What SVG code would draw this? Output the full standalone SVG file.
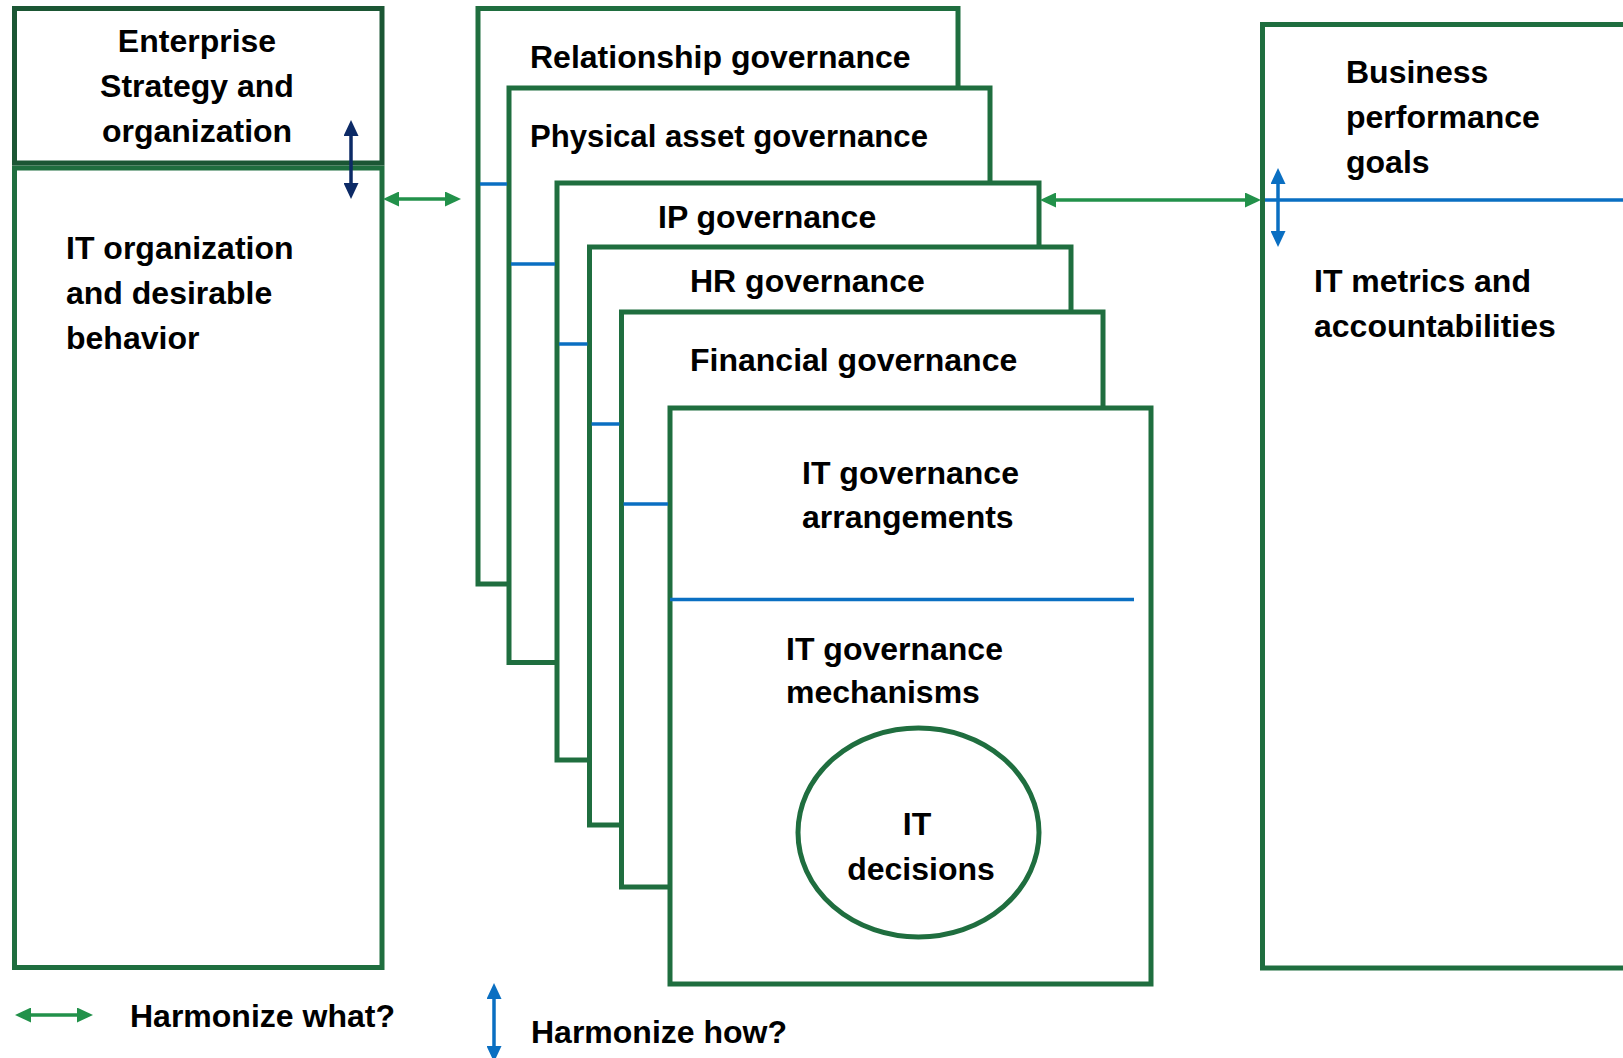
<svg xmlns="http://www.w3.org/2000/svg" width="1623" height="1058" viewBox="0 0 1623 1058">
  <style>
    text { font-family: "Liberation Sans", Arial, sans-serif; font-weight: bold; font-size: 32px; fill: #000; }
    .mid { text-anchor: middle; }
    .box { fill: #fff; stroke: #1f6e3f; stroke-width: 5; }
    .dark { fill: #fff; stroke: #1b5634; stroke-width: 5; }
    .blue { stroke: #0a6fc2; stroke-width: 3.5; fill: none; }
    .green { stroke: #22914a; stroke-width: 3.5; fill: none; marker-start: url(#gHead); marker-end: url(#gHead); }
    .navy { stroke: #0c2a66; stroke-width: 3.5; fill: none; marker-start: url(#nHead); marker-end: url(#nHead); }
    .bArrow { stroke: #0a6fc2; stroke-width: 3.5; fill: none; marker-start: url(#bHead); marker-end: url(#bHead); }
  </style>
  <defs>
    <marker id="gHead" markerUnits="userSpaceOnUse" markerWidth="16" markerHeight="15" viewBox="0 0 16 15" refX="4" refY="7.5" orient="auto-start-reverse">
      <path d="M0,0 L16,7.5 L0,15 z" fill="#22914a"/>
    </marker>
    <marker id="nHead" markerUnits="userSpaceOnUse" markerWidth="16" markerHeight="15" viewBox="0 0 16 15" refX="4" refY="7.5" orient="auto-start-reverse">
      <path d="M0,0 L16,7.5 L0,15 z" fill="#0c2a66"/>
    </marker>
    <marker id="bHead" markerUnits="userSpaceOnUse" markerWidth="16" markerHeight="15" viewBox="0 0 16 15" refX="4" refY="7.5" orient="auto-start-reverse">
      <path d="M0,0 L16,7.5 L0,15 z" fill="#0a6fc2"/>
    </marker>
  </defs>
  <rect width="1623" height="1058" fill="#fff"/>

  <g id="it-organization">
    <rect class="box" x="14.5" y="168" width="367.5" height="799.5"/>
    <text x="66" y="259">IT organization</text>
    <text x="66" y="304">and desirable</text>
    <text x="66" y="349">behavior</text>
  </g>
  <g id="enterprise-strategy">
    <rect class="dark" x="14.5" y="8.5" width="367.5" height="154.5"/>
    <text class="mid" x="197" y="52">Enterprise</text>
    <text class="mid" x="197" y="97">Strategy and</text>
    <text class="mid" x="197" y="142">organization</text>
  </g>

  <g id="business-performance">
    <rect class="box" x="1262.5" y="24.5" width="400" height="943.5"/>
    <text x="1346" y="83">Business</text>
    <text x="1346" y="128">performance</text>
    <text x="1346" y="173">goals</text>
    <text x="1314" y="292">IT metrics and</text>
    <text x="1314" y="337">accountabilities</text>
  </g>

  <g id="relationship-governance">
    <rect class="box" x="478" y="8.5" width="480" height="575.5"/>
    <text x="530" y="68">Relationship governance</text>
  </g>
  <g id="physical-asset-governance">
    <rect class="box" x="509" y="88" width="481" height="574.5"/>
    <text x="530" y="147" textLength="398" lengthAdjust="spacingAndGlyphs">Physical asset governance</text>
  </g>
  <g id="ip-governance">
    <rect class="box" x="557" y="183" width="482" height="577"/>
    <text x="658" y="228">IP governance</text>
  </g>
  <g id="hr-governance">
    <rect class="box" x="589.5" y="247" width="481.5" height="578"/>
    <text x="690" y="292">HR governance</text>
  </g>
  <g id="financial-governance">
    <rect class="box" x="621.5" y="312" width="481.5" height="575"/>
    <text x="690" y="371">Financial governance</text>
  </g>
  <g id="it-governance">
    <rect class="box" x="670" y="408" width="481" height="576"/>
    <line class="blue" x1="670" y1="599.5" x2="1134" y2="599.5"/>
    <text x="802" y="484">IT governance</text>
    <text x="802" y="528">arrangements</text>
    <text x="786" y="660">IT governance</text>
    <text x="786" y="703">mechanisms</text>
  </g>
  <g id="it-decisions">
    <ellipse cx="918.5" cy="832.5" rx="120.5" ry="104.5" fill="#fff" stroke="#1f6e3f" stroke-width="5"/>
    <text class="mid" x="917" y="835">IT</text>
    <text class="mid" x="921" y="880">decisions</text>
  </g>

  <g id="connectors">
    <line class="blue" x1="480" y1="184" x2="507" y2="184"/>
    <line class="blue" x1="511" y1="264" x2="555" y2="264"/>
    <line class="blue" x1="559" y1="344" x2="587.5" y2="344"/>
    <line class="blue" x1="591.5" y1="424" x2="619.5" y2="424"/>
    <line class="blue" x1="623.5" y1="504" x2="668" y2="504"/>
    <line class="blue" x1="1265" y1="200" x2="1623" y2="200"/>
    <line class="navy" x1="351" y1="132" x2="351" y2="187"/>
    <line class="green" x1="395" y1="199" x2="449" y2="199"/>
    <line class="green" x1="1052" y1="200" x2="1249" y2="200"/>
    <line class="bArrow" x1="1278" y1="180" x2="1278" y2="235"/>
  </g>

  <g id="legend">
    <line class="green" x1="27" y1="1015" x2="81" y2="1015"/>
    <text x="130" y="1027">Harmonize what?</text>
    <line class="bArrow" x1="494" y1="995" x2="494" y2="1050"/>
    <text x="531" y="1043">Harmonize how?</text>
  </g>
</svg>
